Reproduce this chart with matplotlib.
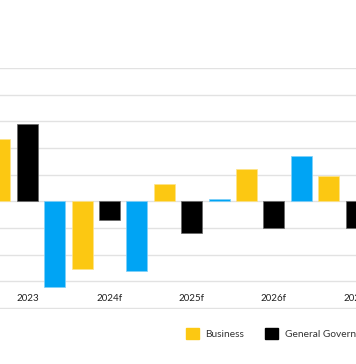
import numpy as np
import matplotlib.pyplot as plt
from matplotlib.patches import Patch

# contributions by sector, percentage points
years = ["2023", "2024f", "2025f", "2026f", "2027f"]
households = [np.nan, -3.2, -2.6, 0.1, 1.7]
business = [2.35, -2.55, 0.65, 1.2, 0.95]
government = [2.9, -0.7, -1.2, -1.0, -1.0]

c_house = "#00A4F4"
c_bus = "#FCC812"
c_gov = "#000000"

plt.rcParams["font.family"] = ["Lato", "DejaVu Sans"]

fig = plt.figure(figsize=(3.56, 3.64), dpi=100)
# one unit = 26.67 px, zero line at y=201 px
ax = fig.add_axes([0, 55 / 364, 1, 241 / 364])

x = np.arange(len(years))
step = 1 / 3
w = 0.255
ax.bar(x - 2 * step, households, w, color=c_house, edgecolor="#7fd0f8", linewidth=0.5, zorder=3)
ax.bar(x - step, business, w, color=c_bus, edgecolor="#fde38a", linewidth=0.5, zorder=3)
ax.bar(x, government, w, color=c_gov, edgecolor="#666666", linewidth=0.5, zorder=3)

ax.set_xlim(-1 / 3, (356 - 27.5) / 82.5)
ax.set_ylim(-4.0375, 5)
ax.set_yticks(np.arange(-4, 6))
ax.yaxis.grid(True, color="#e2e2e2", linewidth=1)
ax.tick_params(axis="y", left=False, labelleft=False)
ax.set_xticks(x)
ax.set_xticklabels(years, fontsize=7, color="#222222")
ax.tick_params(axis="x", length=0, pad=-10.5)
for s in ax.spines.values():
    s.set_visible(False)

handles = [Patch(color=c_bus, label="Business"),
           Patch(color=c_gov, label="General Government"),
           Patch(color=c_house, label="Households")]
fig.legend(handles=handles, loc="center left", bbox_to_anchor=(186 / 356, 1 - 333.5 / 364),
           ncol=3, frameon=False, fontsize=7.3, handlelength=1.25, handleheight=1.25,
           handletextpad=0.65, columnspacing=2.1, borderpad=0, borderaxespad=0,
           labelcolor="#333333")

fig.savefig("out.png", dpi=100, facecolor="white")
